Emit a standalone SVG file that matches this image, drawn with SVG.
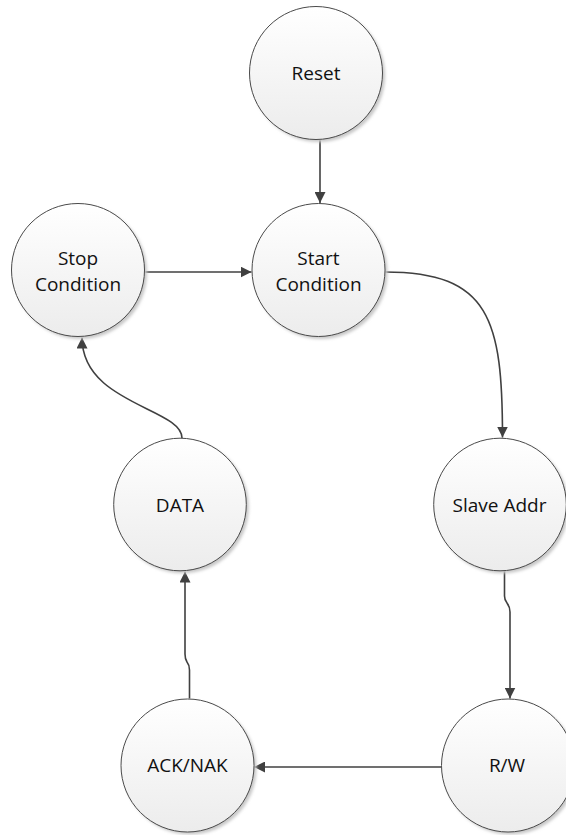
<svg xmlns="http://www.w3.org/2000/svg" width="566" height="835" viewBox="0 0 566 835">
  <defs>
    <linearGradient id="stateFill" x1="0" y1="0" x2="0" y2="1">
      <stop offset="0" stop-color="#ffffff"/>
      <stop offset="1" stop-color="#ececec"/>
    </linearGradient>
    <filter id="softShadow" x="-20%" y="-20%" width="150%" height="150%">
      <feGaussianBlur stdDeviation="1.5"/>
    </filter>
    <marker id="arrow" viewBox="0 0 10 10" refX="10" refY="5" markerWidth="11" markerHeight="11" markerUnits="userSpaceOnUse" orient="auto">
      <path d="M0,0 L10,5 L0,10 Z" fill="#404040"/>
    </marker>
  </defs>
  <style>
    .shadow { fill: #c8c8c8; filter: url(#softShadow); }
    .state { fill: url(#stateFill); stroke: #4a4a4a; stroke-width: 1; }
    .label { font-family: "Open Sans", "Noto Sans", sans-serif; font-size: 19px; fill: #111111; text-anchor: middle; }
    .edge { fill: none; stroke: #404040; stroke-width: 1.6; marker-end: url(#arrow); }
  </style>

  <rect width="566" height="835" fill="#ffffff"/>

  <!-- transitions -->
  <g id="connectors">
    <path class="edge" d="M320,140 L320,203"/>
    <path class="edge" d="M144.5,272 L251.5,272"/>
    <path class="edge" d="M385,272 C490,272 502.5,320 502.5,437.5"/>
    <path class="edge" d="M504.5,570.5 L504.5,596 Q504.5,600 507,603 Q510,607 510,612 L510,698.5"/>
    <path class="edge" d="M441.5,767 L254,767"/>
    <path class="edge" d="M189.5,698.5 L189.5,670 Q189.5,665 187,662 Q185,659 185,654 L185,571.5"/>
    <path class="edge" d="M182,438 C182,408 82,404 82,337.5"/>
  </g>

  <!-- states -->
  <g id="reset">
    <circle class="shadow" cx="318.5" cy="75.5" r="66.5"/>
    <circle class="state" cx="316" cy="73" r="66.5"/>
    <text class="label" x="316" y="80">Reset</text>
  </g>
  <g id="start-condition">
    <circle class="shadow" cx="321" cy="272.5" r="66.5"/>
    <circle class="state" cx="318.5" cy="270" r="66.5"/>
    <text class="label" x="318.5" y="265">Start</text>
    <text class="label" x="318.5" y="290.5">Condition</text>
  </g>
  <g id="stop-condition">
    <circle class="shadow" cx="80.5" cy="272.5" r="66.5"/>
    <circle class="state" cx="78" cy="270" r="66.5"/>
    <text class="label" x="78" y="265">Stop</text>
    <text class="label" x="78" y="290.5">Condition</text>
  </g>
  <g id="slave-addr">
    <circle class="shadow" cx="502.5" cy="507" r="66.3"/>
    <circle class="state" cx="500" cy="504.5" r="66.3"/>
    <text class="label" x="499.5" y="511.5">Slave Addr</text>
  </g>
  <g id="data">
    <circle class="shadow" cx="182.5" cy="507" r="66.3"/>
    <circle class="state" cx="180" cy="504.5" r="66.3"/>
    <text class="label" x="180" y="511.5">DATA</text>
  </g>
  <g id="ack-nak">
    <circle class="shadow" cx="190" cy="768" r="66.5"/>
    <circle class="state" cx="187.5" cy="765.5" r="66.5"/>
    <text class="label" x="187.5" y="772">ACK/NAK</text>
  </g>
  <g id="rw">
    <circle class="shadow" cx="510.5" cy="768" r="66.5"/>
    <circle class="state" cx="508" cy="765.5" r="66.5"/>
    <text class="label" x="507" y="772">R/W</text>
  </g>
</svg>
